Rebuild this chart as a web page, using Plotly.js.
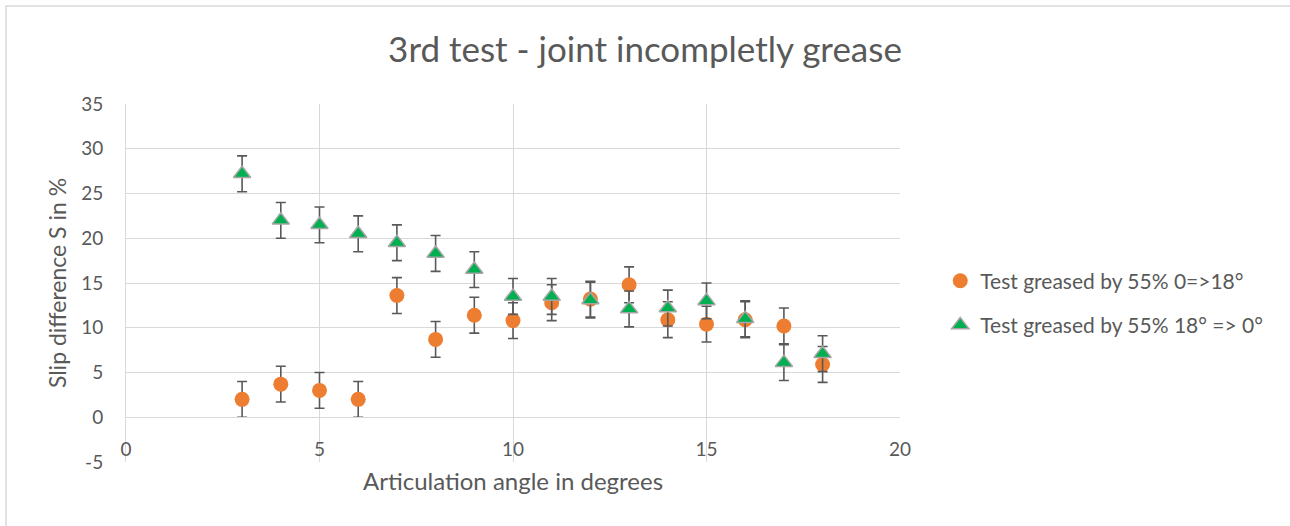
<!DOCTYPE html>
<html>
<head>
<meta charset="utf-8">
<script src="https://cdn.plot.ly/plotly-3.0.1.min.js"></script>
<style>html,body{margin:0;padding:0;background:#fff;}#chart{width:1290px;height:526px;}</style>
</head>
<body>
<div id="chart"></div>
<script>
// Data
const angles = [3, 4, 5, 6, 7, 8, 9, 10, 11, 12, 13, 14, 15, 16, 17, 18];
const slipUp = [2.0, 3.7, 3.0, 2.0, 13.6, 8.7, 11.4, 10.8, 12.8, 13.2, 14.8, 10.9, 10.4, 10.9, 10.2, 5.9];
const slipDown = [27.2, 22.0, 21.5, 20.5, 19.5, 18.3, 16.5, 13.5, 13.5, 13.1, 12.1, 12.2, 13.0, 11.0, 6.1, 7.1];
const errUp = [2, 2, 2, 2, 2, 2, 2, 2, 2, 2, 2, 2, 2, 2, 2, 2];
const errDown = [2, 2, 2, 2, 2, 2, 2, 2, 2, 2, 2, 2, 2, 2, 2, 2];
const seriesNames = ['Test greased by 55% 0=>18°', 'Test greased by 55% 18° => 0°'];
const xTicks = [0, 5, 10, 15, 20];
const yTicks = [-5, 0, 5, 10, 15, 20, 25, 30, 35];

const FONT = 'Lato, "Open Sans", sans-serif';
const TXT = '#595959';
const GRID = '#D9D9D9';

const traces = [
  {
    x: angles, y: slipUp, type: 'scatter', mode: 'markers', name: seriesNames[0],
    legendgroup: 'a',
    marker: {symbol: 'circle', size: 15, color: '#ED7D31', line: {width: 0}},
    error_y: {type: 'data', array: errUp, visible: true, color: '#595959', thickness: 1.6, width: 5}
  },
  {
    x: angles, y: slipDown, type: 'scatter', mode: 'markers', name: seriesNames[1],
    legendgroup: 'b',
    marker: {symbol: 'triangle-up', size: 15, color: '#00B050', line: {width: 1.5, color: '#A5A5A5'}},
    error_y: {type: 'data', array: errDown, visible: true, color: '#595959', thickness: 1.6, width: 5}
  }
];

const layout = {
  width: 1290, height: 526,
  margin: {l: 126, r: 390, t: 104, b: 64, pad: 0},
  paper_bgcolor: '#ffffff', plot_bgcolor: '#ffffff',
  font: {family: FONT, color: TXT},
  title: {text: '3rd test - joint incompletly grease', font: {family: FONT, size: 35, color: TXT},
          x: 0.5, xref: 'container', xanchor: 'center', y: 1 - 50/526, yref: 'container', yanchor: 'middle'},
  xaxis: {
    range: [0, 20], tickvals: xTicks, ticktext: xTicks.map(String),
    showgrid: true, gridcolor: GRID, gridwidth: 1,
    zeroline: true, zerolinecolor: GRID, zerolinewidth: 1,
    showline: true, linecolor: GRID, linewidth: 1,
    anchor: 'free', position: 0.125,
    ticks: 'outside', ticklen: 15, tickcolor: 'rgba(0,0,0,0)',
    tickfont: {family: FONT, size: 19, color: TXT},
    title: {text: 'Articulation angle in degrees', font: {family: FONT, size: 24, color: TXT}, standoff: 14},
    fixedrange: true
  },
  yaxis: {
    range: [-5, 35], tickvals: yTicks, ticktext: yTicks.map(String),
    showgrid: true, gridcolor: GRID, gridwidth: 1,
    zeroline: true, zerolinecolor: GRID, zerolinewidth: 1,
    showline: true, linecolor: GRID, linewidth: 1,
    ticks: 'outside', ticklen: 18, tickcolor: 'rgba(0,0,0,0)',
    tickfont: {family: FONT, size: 19, color: TXT},
    title: {text: 'Slip difference S in %', font: {family: FONT, size: 23, color: TXT}, standoff: 8},
    fixedrange: true
  },
  showlegend: true,
  legend: {
    x: 1.052, xanchor: 'left', y: 0.444, yanchor: 'middle',
    font: {family: FONT, size: 21, color: TXT},
    traceorder: 'grouped', tracegroupgap: 14,
    bgcolor: 'rgba(0,0,0,0)'
  },
  shapes: [
    {type: 'rect', xref: 'paper', yref: 'paper', x0: -0.155, x1: 1.7, y0: -0.4, y1: 1.274,
     line: {color: '#D9D9D9', width: 1.5}, fillcolor: 'rgba(0,0,0,0)', layer: 'below'}
  ]
};

Plotly.newPlot('chart', traces, layout, {displayModeBar: false, staticPlot: true});
</script>
</body>
</html>
